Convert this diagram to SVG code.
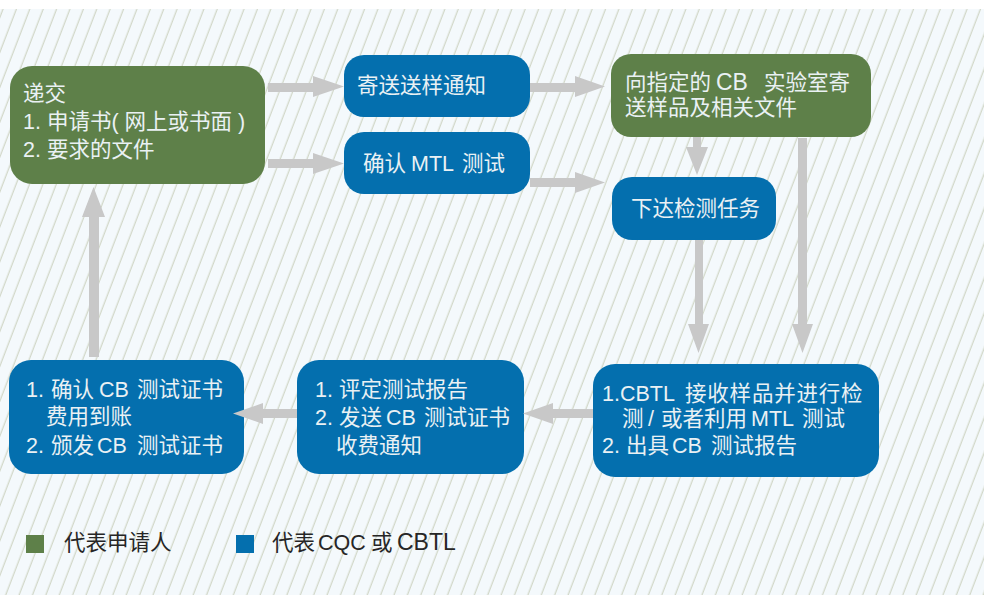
<svg xmlns="http://www.w3.org/2000/svg" width="984" height="595" viewBox="0 0 984 595">
<style>
.g{fill:#5e8049}
.b{fill:#046fae}
.t{font-family:"Liberation Sans","Noto Sans CJK SC",sans-serif;font-size:21.5px;fill:#eaf1f4}
.a{fill:#c8c8c8}
.lg{font-family:"Liberation Sans","Noto Sans CJK SC",sans-serif;font-size:21.5px;fill:#262626}
</style>
<defs>
<pattern id="h" width="12.5" height="20" patternUnits="userSpaceOnUse" patternTransform="rotate(21)">
<rect width="12.5" height="20" fill="#f4f9fc"/>
<line x1="6" y1="-1" x2="6" y2="21" stroke="#bec5ab" stroke-width="0.85"/>
</pattern>
</defs>
<rect width="984" height="595" fill="#ffffff"/>
<rect y="9" width="984" height="586" fill="url(#h)"/>

<g id="n1"><rect class="g" x="10" y="66" width="255" height="118" rx="22"/>
<text class="t" x="23" y="101">递交</text>
<text class="t" x="23" y="129">1. 申请书( 网上或书面 )</text>
<text class="t" x="23" y="157">2. 要求的文件</text></g>

<g id="n2"><rect class="b" x="344" y="55" width="186" height="62" rx="20"/>
<text class="t" x="357" y="93">寄送送样通知</text></g>

<g id="n3"><rect class="b" x="344" y="132" width="186" height="62" rx="20"/>
<text class="t" y="171"><tspan x="363">确认</tspan><tspan x="411">MTL</tspan><tspan x="462">测试</tspan></text></g>

<g id="n4"><rect class="g" x="611" y="54" width="260" height="83" rx="20"/>
<text class="t" y="90"><tspan x="625">向指定的</tspan><tspan x="716" font-size="23px">CB</tspan><tspan x="764">实验室寄</tspan></text>
<text class="t" x="625" y="115">送样品及相关文件</text></g>

<g id="n5"><rect class="b" x="612" y="177" width="164" height="63" rx="20"/>
<text class="t" x="631" y="216">下达检测任务</text></g>

<g id="n6"><rect class="b" x="593" y="364" width="286" height="113" rx="22"/>
<text class="t" y="401"><tspan x="602">1.CBTL</tspan><tspan x="685" letter-spacing="0.8">接收样品并进行检</tspan></text>
<text class="t" y="426"><tspan x="622">测</tspan><tspan x="648">/</tspan><tspan x="661">或者利用</tspan><tspan x="751">MTL</tspan><tspan x="802">测试</tspan></text>
<text class="t" y="453"><tspan x="602">2.</tspan><tspan x="626">出具</tspan><tspan x="672">CB</tspan><tspan x="711">测试报告</tspan></text></g>

<g id="n7"><rect class="b" x="297" y="360" width="227" height="114" rx="22"/>
<text class="t" y="397"><tspan x="315">1.</tspan><tspan x="339">评定测试报告</tspan></text>
<text class="t" y="425"><tspan x="315">2.</tspan><tspan x="339">发送</tspan><tspan x="386">CB</tspan><tspan x="424">测试证书</tspan></text>
<text class="t" x="336" y="453">收费通知</text></g>

<g id="n8"><rect class="b" x="9" y="360" width="235" height="114" rx="22"/>
<text class="t" y="397"><tspan x="26">1.</tspan><tspan x="51">确认</tspan><tspan x="99">CB</tspan><tspan x="137">测试证书</tspan></text>
<text class="t" x="46" y="424">费用到账</text>
<text class="t" y="453"><tspan x="26">2.</tspan><tspan x="51">颁发</tspan><tspan x="97">CB</tspan><tspan x="137">测试证书</tspan></text></g>

<g id="connectors">
<polygon class="a" points="268,83 313,83 313,76 344,86.5 313,97 313,92 268,92"/>
<polygon class="a" points="268,159 313,159 313,153 344,163.5 313,174 313,168 268,168"/>
<polygon class="a" points="530,83 575,83 575,76 605,86.5 575,97 575,92 530,92"/>
<polygon class="a" points="530,178 575,178 575,172 605,182.5 575,193 575,187 530,187"/>
<polygon class="a" points="693,137 701,137 701,147 708,147 697,175 686,147 693,147"/>
<polygon class="a" points="798,138 807,138 807,324 813,324 802.5,353 792,324 798,324"/>
<polygon class="a" points="695,240 703,240 703,324 709,324 698.5,353 688,324 695,324"/>
<polygon class="a" points="593,409 553,409 553,403 523,413.5 553,424 553,418 593,418"/>
<polygon class="a" points="297,409 263,409 263,403 233,413.5 263,424 263,418 297,418"/>
<polygon class="a" points="89,357 89,217 82,217 93.5,187 105,217 99,217 99,357"/>
</g>

<g id="legend">
<rect class="g" x="26" y="535" width="18" height="18"/>
<text class="lg" x="64" y="550">代表申请人</text>
<rect class="b" x="236" y="535" width="18" height="18"/>
<text class="lg" y="550"><tspan x="272">代表</tspan><tspan x="318">CQC</tspan><tspan x="371">或</tspan><tspan x="397" font-size="23px">CBTL</tspan></text>
</g>
</svg>
